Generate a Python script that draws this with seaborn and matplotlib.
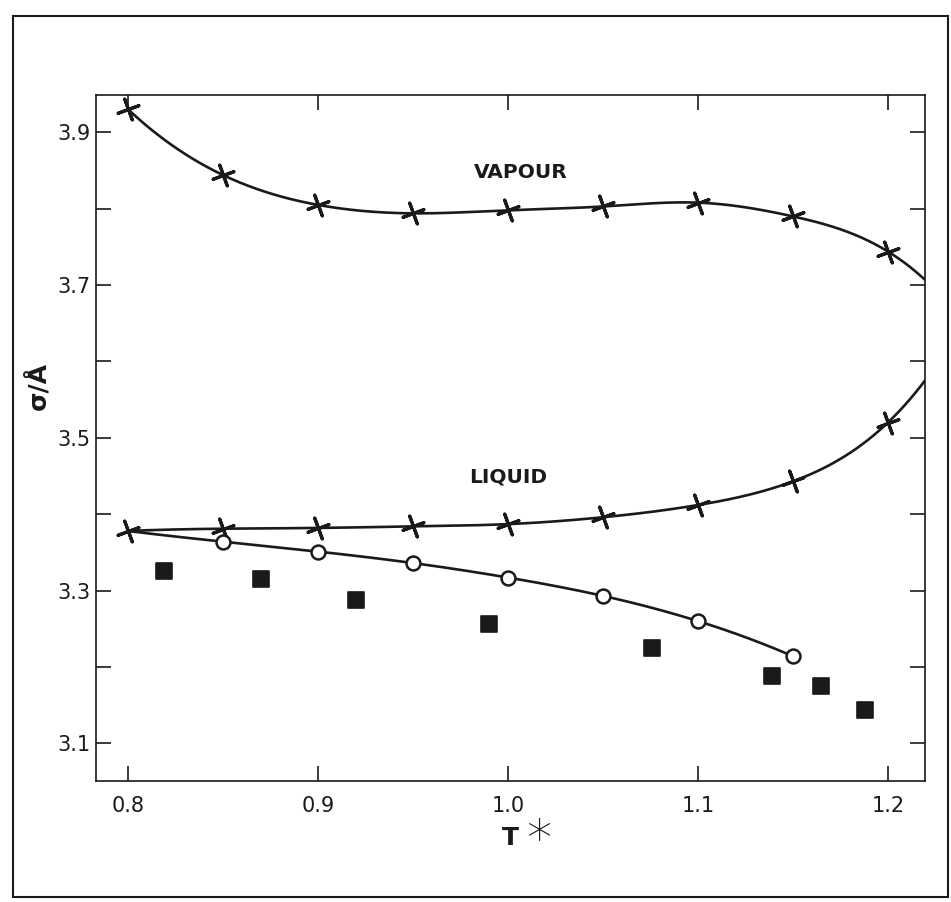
import numpy as np
import pandas as pd
import matplotlib
matplotlib.use("Agg")
import matplotlib.pyplot as plt
import seaborn as sns
from matplotlib.patches import Rectangle
from matplotlib.ticker import FixedLocator

# ---------------- data ----------------
vapour_T = [0.80, 0.85, 0.90, 0.95, 1.00, 1.05, 1.10, 1.15, 1.20]
vapour_sigma = [3.930, 3.844, 3.805, 3.794, 3.798, 3.803, 3.808, 3.790, 3.744]
vapour_curve_end = [1.2195, 3.707]

liquid_T = [0.80, 0.85, 0.90, 0.95, 1.00, 1.05, 1.10, 1.15, 1.20]
liquid_sigma = [3.378, 3.381, 3.382, 3.384, 3.387, 3.396, 3.412, 3.443, 3.520]
liquid_curve_end = [1.2195, 3.575]

circle_T = [0.85, 0.90, 0.95, 1.00, 1.05, 1.10, 1.15]
circle_sigma = [3.364, 3.351, 3.336, 3.317, 3.293, 3.260, 3.214]
circle_curve_start = [0.80, 3.378]

square_T = [0.819, 0.870, 0.920, 0.990, 1.076, 1.139, 1.165, 1.188]
square_sigma = [3.325, 3.315, 3.288, 3.256, 3.225, 3.188, 3.175, 3.144]

x_ticks = [0.8, 0.9, 1.0, 1.1, 1.2]
x_ticklabels = ["0.8", "0.9", "1.0", "1.1", "1.2"]
y_major = [3.1, 3.3, 3.5, 3.7, 3.9]
y_ticklabels = ["3.1", "3.3", "3.5", "3.7", "3.9"]
y_minor = [3.2, 3.4, 3.6, 3.8]


def smooth(xs, ys, n=80):
    """Draw a smooth (not-a-knot cubic spline) curve through the given points."""
    xs = np.asarray(xs, float)
    ys = np.asarray(ys, float)
    k = len(xs)
    h = np.diff(xs)
    d = np.diff(ys) / h
    A = np.zeros((k, k))
    b = np.zeros(k)
    for i in range(1, k - 1):
        A[i, i - 1] = h[i - 1]
        A[i, i] = 2 * (h[i - 1] + h[i])
        A[i, i + 1] = h[i]
        b[i] = 6 * (d[i] - d[i - 1])
    A[0, 0], A[0, 1], A[0, 2] = h[1], -(h[0] + h[1]), h[0]
    A[-1, -3], A[-1, -2], A[-1, -1] = h[-1], -(h[-2] + h[-1]), h[-2]
    M = np.linalg.solve(A, b)
    ox, oy = [], []
    for i in range(k - 1):
        x = np.linspace(xs[i], xs[i + 1], n, endpoint=(i == k - 2))
        a = xs[i + 1] - x
        c = x - xs[i]
        y = (M[i] * a**3 / (6 * h[i]) + M[i + 1] * c**3 / (6 * h[i])
             + (ys[i] / h[i] - M[i] * h[i] / 6) * a
             + (ys[i + 1] / h[i] - M[i + 1] * h[i] / 6) * c)
        ox.append(x)
        oy.append(y)
    return np.concatenate(ox), np.concatenate(oy)


sns.set_theme(style="white")
plt.rcParams["font.family"] = ["DejaVu Sans"]

fig = plt.figure(figsize=(9.51, 9.02), dpi=100)
ax = fig.add_axes([0.1009, 0.1345, 0.8717, 0.7602])

ink = "#1a1a1a"
curve_lw = 1.9

# curves
vx, vy = smooth(vapour_T + [vapour_curve_end[0]], vapour_sigma + [vapour_curve_end[1]])
lx, ly = smooth(liquid_T + [liquid_curve_end[0]], liquid_sigma + [liquid_curve_end[1]])
cx, cy = smooth([circle_curve_start[0]] + circle_T, [circle_curve_start[1]] + circle_sigma)
for xx, yy in [(vx, vy), (lx, ly), (cx, cy)]:
    sns.lineplot(x=xx, y=yy, ax=ax, color=ink, lw=curve_lw, sort=False,
                 estimator=None, legend=False)

# markers
cross = (4, 2, 20)
sns.scatterplot(x=vapour_T, y=vapour_sigma, ax=ax, marker=cross, s=250,
                color=ink, linewidth=2.3, zorder=5, legend=False)
sns.scatterplot(x=liquid_T, y=liquid_sigma, ax=ax, marker=cross, s=250,
                color=ink, linewidth=2.3, zorder=5, legend=False)
sns.scatterplot(x=circle_T, y=circle_sigma, ax=ax, marker="o", s=100,
                color=ink, facecolor="white", edgecolor=ink, linewidth=1.8,
                zorder=6, legend=False)
sns.scatterplot(x=square_T, y=square_sigma, ax=ax, marker="s", s=140,
                color=ink, edgecolor=ink, linewidth=1.2, zorder=6, legend=False)

# axes
ax.set_xlim(0.783, 1.2195)
ax.set_ylim(3.051, 3.949)
ax.xaxis.set_major_locator(FixedLocator(x_ticks))
ax.set_xticklabels(x_ticklabels)
ax.yaxis.set_major_locator(FixedLocator(y_major))
ax.set_yticklabels(y_ticklabels)
ax.yaxis.set_minor_locator(FixedLocator(y_minor))
ax.tick_params(axis="both", which="both", direction="in", length=11, width=1.2,
               color=ink, top=True, right=True, bottom=True, left=True,
               labelsize=15, labelcolor=ink)
ax.tick_params(axis="x", which="major", pad=11)
ax.tick_params(axis="y", which="major", pad=4)
for sp in ax.spines.values():
    sp.set_visible(True)
    sp.set_color(ink)
    sp.set_linewidth(1.2)
ax.set_xlabel("")
ax.set_ylabel("")
ax.grid(False)

# annotations
ax.text(1.0067, 3.847, "VAPOUR", ha="center", va="center", fontsize=14.5,
        fontweight="bold", color=ink)
ax.text(1.0001, 3.449, "LIQUID", ha="center", va="center", fontsize=14.5,
        fontweight="bold", color=ink)

# axis titles
fig.text(510 / 951, 1 - 838 / 902, "T", ha="center", va="center", fontsize=18,
         fontweight="bold", color=ink)
fig.text(539 / 951, 1 - 830 / 902, "\u2217", ha="center", va="center", fontsize=36,
         fontweight="ultralight", color=ink)
fig.text(38 / 951, 1 - 386 / 902, "\u03c3/\u00c5", ha="center", va="center",
         fontsize=18, fontweight="bold", rotation=90, color=ink)

# outer frame
fig.add_artist(Rectangle((13 / 951, 5 / 902), 935 / 951, 881 / 902,
                         transform=fig.transFigure, fill=False, lw=1.5,
                         edgecolor=ink))

fig.savefig("out.png", dpi=100)
